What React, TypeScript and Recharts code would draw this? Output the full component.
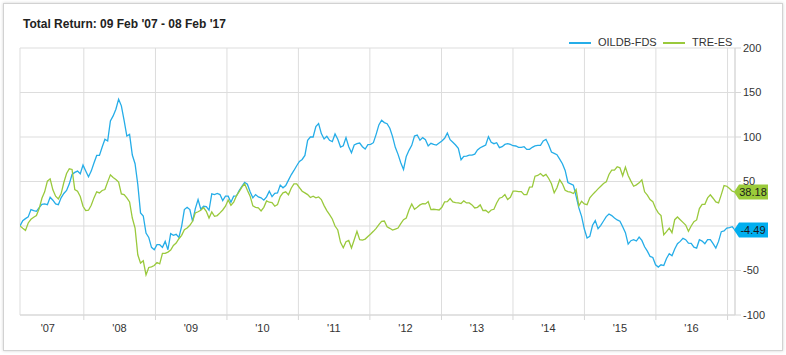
import React from 'react';
import { LineChart, Line, XAxis, YAxis, CartesianGrid, ReferenceDot } from 'recharts';

const TITLE = "Total Return: 09 Feb '07 - 08 Feb '17";
const SERIES_NAMES = ['OILDB-FDS', 'TRE-ES'];
const SERIES_COLORS = ['#25ADE8', '#9AC93C'];
const LABEL_COLORS = ['#00AEEF', '#9BCB3B'];

const START = Date.UTC(2007, 1, 9);
const END = Date.UTC(2017, 1, 8);

const Y_TICKS = [-100, -50, 0, 50, 100, 150, 200];
const YEAR_BOUNDARIES = [2008, 2009, 2010, 2011, 2012, 2013, 2014, 2015, 2016, 2017];
const YEAR_LABELS = [2007, 2008, 2009, 2010, 2011, 2012, 2013, 2014, 2015, 2016];

// OILDB-FDS total return (%), fortnightly
const OIL = [
  0, 6.0, 8.3, 10.2, 18.4, 17.3, 16.5, 20.7, 24.4, 24.8,
  24, 32.3, 29, 24.8, 24, 31.6, 36.5, 39.9, 47.4, 57.9,
  60.2, 61.7, 58.7, 68.4, 61.7, 55.3, 61.7, 70.7, 79.3, 79.3,
  88.7, 97.4, 95.5, 118, 123.7, 131.2, 142.5, 135, 118.8, 101.1,
  103, 79.7, 70, 46.6, 14.7, 11.3, -7.9, -12.8, -24, -26.7,
  -21, -21, -24, -17.3, -26.7, -8.6, -10.5, -9.4, -12.8, -0.4,
  18.4, 21, 18.4, 5.3, 19.6, 29.7, 18.8, 22.2, 21.8, 17.7,
  36.1, 35.3, 36.5, 35.3, 28.6, 33.5, 33.5, 26.7, 33.5, 33.8,
  39.9, 44.4, 48.9, 47, 38.4, 31.6, 35.3, 32.7, 31.6, 29,
  32.7, 39.1, 33.1, 36.8, 37.2, 45.9, 42.9, 45.5, 51.5, 57.5,
  62.4, 67.7, 72.6, 74.8, 79.3, 96.3, 100, 100, 111.7, 115,
  103.8, 97.8, 100.8, 96.3, 94.8, 103.4, 97.4, 88.7, 90.2, 99.3,
  89.1, 82.3, 91, 92.5, 93.2, 89.1, 86.5, 91.4, 91.7, 93.6,
  103, 113.6, 118.8, 116.2, 115, 109.8, 100.4, 88.4, 80.5, 71.1,
  63.5, 78.2, 85, 90.6, 101.1, 102.3, 96.3, 99.3, 97, 89.9,
  92.9, 91.7, 91, 93.2, 95.5, 98.5, 104.5, 97, 94, 91,
  87.2, 74.4, 78.2, 78.6, 79.7, 79.7, 80.8, 85.4, 88, 89.5,
  91, 100.4, 94, 92.5, 93.6, 88, 89.1, 91.7, 92.5, 91.7,
  90.2, 89.9, 88.4, 88.4, 89.1, 86.1, 86.1, 88.4, 89.9, 90.6,
  90.6, 95.5, 97.4, 91, 83.1, 81.6, 80.1, 75.2, 69.9, 62.4,
  48.9, 47.4, 45.9, 33.5, 20.3, 10.9, -3.4, -13.5, -11.7, 0.8,
  6, -3, 0.8, 5.6, 10.5, 13.5, 11.7, 9, 6.8, 5.3,
  -0.8, -7.5, -20.3, -16.5, -15.4, -16.9, -12.4, -16.2, -23.3, -28.2,
  -34.2, -35.3, -43.6, -46.2, -43.6, -44.4, -36.5, -31.2, -33.5, -25.9,
  -19.9, -17.3, -13.9, -15.4, -19.2, -19.6, -23.7, -24.8, -15.4, -16.9,
  -19.9, -15.4, -15.4, -19.9, -24.8, -17.3, -6.4, -5.6, -2.3, -1.9,
  -0.8, -4.49,
];

// TRE-ES total return (%), fortnightly
const TRE = [
  0, -2.6, -4.9, 3.4, 7.5, 9.8, 11.7, 19.6, 31.2, 38.4,
  50.4, 53, 40.6, 33.5, 30.5, 36.1, 48.9, 59, 64.3, 63.5,
  41, 39.1, 33.1, 22.2, 17.3, 17.7, 23.3, 31.6, 38.4, 37.2,
  39.9, 41, 49.6, 57.5, 54.5, 52.3, 49.3, 36.1, 35.3, 31.6,
  27.1, 9, -2.3, -32.3, -41.7, -39.1, -54.9, -46.6, -45.9, -44.4,
  -41, -42.5, -30.8, -30.8, -29.3, -27.1, -21.8, -19.2, -14.3, -10.5,
  -4.1, -2.3, 0.8, 5.3, 14.7, 16, 17.7, 20.7, 16.5, 9,
  15.8, 10.9, 11.7, 14.7, 18, 22.2, 29.3, 23.3, 26.7, 33.8,
  38.7, 43.6, 47.4, 40.2, 33.5, 22.6, 21, 20.3, 16.9, 21,
  28.2, 26.7, 26.3, 22.2, 24, 33.1, 37.2, 38.4, 35, 42.5,
  47.4, 47.4, 43.2, 39.1, 37.2, 35.3, 32, 33.5, 31.6, 32.7,
  29.7, 22.9, 17.3, 12.8, 7.9, 0, -4.5, -18.4, -24.4, -17.7,
  -16.2, -24.8, -15.4, -6, -15.4, -15.8, -14.7, -11.7, -9, -6,
  -2.6, 1.5, 5.3, 5.6, -0.8, -2.6, -4.5, -3.4, -2.3, 2.6,
  7.1, 9, 18, 24.8, 18.8, 21, 23.7, 25.2, 24.8, 27.4,
  18.4, 18.8, 18.4, 18, 21, 27.1, 27.4, 30.8, 27.1, 26.3,
  25.9, 25.2, 28.2, 25.9, 25.9, 23.7, 20.3, 21, 23.7, 17.3,
  17.7, 15, 18, 18.8, 25.9, 31.2, 32.3, 35.3, 29.7, 32.3,
  39.1, 39.1, 38.7, 38.7, 35.3, 35.3, 43.6, 44, 56, 56.8,
  59, 56, 57.9, 53.4, 47.4, 37.2, 42.9, 51.9, 47.4, 40.2,
  38.7, 38, 36.5, 41, 22.6, 27.8, 24.8, 24, 31.6, 35.3,
  38.4, 41.7, 44.7, 47.8, 49.6, 57.9, 62.8, 62.8, 66.6, 65.4,
  56.4, 66.2, 56.8, 50.4, 44.7, 46.2, 48.5, 51.9, 38.4, 34.6,
  29.7, 27.4, 19.9, 14.7, 11.7, -9.8, -6.4, -2.3, -7.5, 7.1,
  10.2, 7.1, 4.1, 1.1, -6, 0, 4.9, 6.8, 19.6, 24.4,
  24.4, 31.6, 35, 31.2, 27.1, 25.9, 35.3, 45.5, 44.7, 42.1,
  39.1, 38.18,
];

const N = OIL.length;
const LAST = N - 1;
const data = OIL.map((v, i) => ({
  t: START + (i * (END - START)) / LAST,
  oil: v,
  tre: TRE[i],
}));

const boundaryTicks = YEAR_BOUNDARIES.map((y) => Date.UTC(y, 0, 1));
const labelTicks = YEAR_LABELS.map((y) => Date.UTC(y, 6, 1));
const fmtYear = (v: number) => "'" + String(new Date(v).getUTCFullYear()).slice(2);

const FONT = 'Arial, "Liberation Sans", sans-serif';

// The "0" label sits under the OILDB-FDS end tag in the reference, so it is not drawn.
const YTick = (props: any) => {
  const { x, y, payload } = props;
  if (payload && payload.value === 0) return <g />;
  return (
    <text x={x} y={y} dy="0.35em" textAnchor="start" fontSize={11} fill="#333" fontFamily={FONT}>
      {payload.value}
    </text>
  );
};

const makeTag = (fill: string, text: string) => (props: any) => {
  const { cx, cy } = props;
  const x0 = cx - 1;
  const h = 7.5;
  return (
    <g>
      <path
        d={`M${x0},${cy} L${x0 + 5},${cy - h} L${x0 + 34},${cy - h} L${x0 + 34},${cy + h} L${x0 + 5},${cy + h} Z`}
        fill={fill}
      />
      <text x={x0 + 19} y={cy} dy="0.35em" textAnchor="middle" fontSize={11} fill="#1a1a1a" fontFamily={FONT}>
        {text}
      </text>
    </g>
  );
};

export default function App() {
  return (
    <div style={{ position: 'absolute', left: 0, top: 0, width: 786, height: 355, background: '#fff', fontFamily: FONT }}>
      <div
        style={{
          position: 'absolute',
          left: 3,
          top: 3,
          width: 778,
          height: 346,
          border: '1px solid #d2d2d2',
          boxShadow: '0 0 3px rgba(0,0,0,0.18)',
          background: '#fff',
        }}
      />
      <div style={{ position: 'absolute', left: 23, top: 17, fontSize: 12, lineHeight: '14px', fontWeight: 'bold', color: '#222', whiteSpace: 'nowrap' }}>
        {TITLE}
      </div>
      <div style={{ position: 'absolute', left: 0, top: 0 }}>
        <LineChart width={786} height={355} data={data} margin={{ top: 48, right: 0, bottom: 13, left: 20 }}>
          <CartesianGrid xAxisId="g" yAxisId="r" stroke="#dddddd" />
          <XAxis
            xAxisId="g"
            dataKey="t"
            type="number"
            domain={[START, END]}
            allowDataOverflow
            ticks={boundaryTicks}
            interval={0}
            tickFormatter={() => ''}
            tickSize={5}
            height={5}
            axisLine={{ stroke: '#d6d6d6' }}
            tickLine={{ stroke: '#d6d6d6' }}
          />
          <XAxis
            xAxisId="l"
            dataKey="t"
            type="number"
            domain={[START, END]}
            allowDataOverflow
            ticks={labelTicks}
            interval={0}
            tickFormatter={fmtYear}
            axisLine={false}
            tickLine={false}
            tickSize={0}
            tickMargin={4}
            height={22}
            tick={{ fill: '#333', fontSize: 11, fontFamily: FONT }}
          />
          <YAxis
            yAxisId="r"
            orientation="right"
            domain={[-100, 200]}
            ticks={Y_TICKS}
            interval={0}
            width={51}
            tickSize={6}
            tickMargin={2}
            axisLine={{ stroke: '#d6d6d6' }}
            tickLine={{ stroke: '#d6d6d6' }}
            tick={<YTick />}
          />
          <Line
            xAxisId="g"
            yAxisId="r"
            dataKey="oil"
            name={SERIES_NAMES[0]}
            stroke={SERIES_COLORS[0]}
            strokeWidth={1.3}
            dot={false}
            isAnimationActive={false}
          />
          <Line
            xAxisId="g"
            yAxisId="r"
            dataKey="tre"
            name={SERIES_NAMES[1]}
            stroke={SERIES_COLORS[1]}
            strokeWidth={1.3}
            dot={false}
            isAnimationActive={false}
          />
          <ReferenceDot
            xAxisId="g"
            yAxisId="r"
            x={data[LAST].t}
            y={TRE[LAST]}
            r={0}
            ifOverflow="visible"
            shape={makeTag(LABEL_COLORS[1], TRE[LAST].toFixed(2))}
          />
          <ReferenceDot
            xAxisId="g"
            yAxisId="r"
            x={data[LAST].t}
            y={OIL[LAST]}
            r={0}
            ifOverflow="visible"
            shape={makeTag(LABEL_COLORS[0], OIL[LAST].toFixed(2))}
          />
        </LineChart>
      </div>
      <div style={{ position: 'absolute', left: 569, top: 42, width: 22, height: 1.5, background: SERIES_COLORS[0] }} />
      <div style={{ position: 'absolute', left: 598, top: 36, fontSize: 11, lineHeight: '13px', color: '#333' }}>{SERIES_NAMES[0]}</div>
      <div style={{ position: 'absolute', left: 663, top: 42, width: 22, height: 1.5, background: SERIES_COLORS[1] }} />
      <div style={{ position: 'absolute', left: 692, top: 36, fontSize: 11, lineHeight: '13px', color: '#333' }}>{SERIES_NAMES[1]}</div>
    </div>
  );
}
